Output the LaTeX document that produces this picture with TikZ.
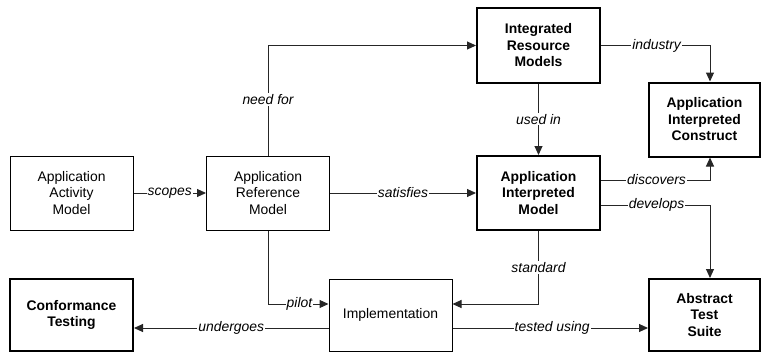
\documentclass[tikz,border=0pt]{standalone}
\usepackage{fontspec}
\setmainfont{Liberation Sans}
\usetikzlibrary{arrows.meta}
\begin{document}
\begin{tikzpicture}[x=1pt,y=-1pt,
  font=\fontsize{13.9}{16.5}\selectfont,
  box/.style={draw=black, line width=1pt, inner sep=0pt, align=center,
              minimum width=123pt, minimum height=74pt},
  keybox/.style={box, line width=2pt, font=\fontsize{13.9}{16.5}\selectfont\bfseries},
  conn/.style={draw=black!85, line width=1pt,
               -{Triangle[length=9pt,width=8pt]}},
  lbl/.style={fill=white, inner sep=1pt, font=\fontsize{13.9}{16.5}\selectfont\itshape}]
\useasboundingbox (0,0) rectangle (762,353);

% boxes
\node[box]    (aam)  at (71.5,193)  {Application\\Activity\\Model};
\node[box]    (arm)  at (268,193)   {Application\\Reference\\Model};
\node[keybox] (irm)  at (538.5,45.5) {Integrated\\Resource\\Models};
\node[keybox, minimum width=111pt] (aic) at (704.5,119.5) {Application\\Interpreted\\Construct};
\node[keybox] (aim)  at (538.5,193) {Application\\Interpreted\\Model};
\node[box, minimum height=72pt] (impl) at (390.5,315) {Implementation};
\node[keybox, minimum height=72pt] (ct) at (71.5,315) {Conformance\\Testing};
\node[keybox, minimum width=111pt, minimum height=72pt] (ats) at (704.5,315) {Abstract\\Test\\Suite};

% connectors
\draw[conn] (aam) -- node[lbl, pos=0.5] {scopes} (arm);
\draw[conn] (arm) -- node[lbl, pos=0.5] {satisfies} (aim);
\draw[conn] (arm.north) |- node[lbl, pos=0.255] {need for} (irm.west);
\draw[conn] (irm.south) -- node[lbl, pos=0.5] {used in} (aim.north);
\draw[conn] (irm.east) -| node[lbl, pos=0.255] {industry} ([xshift=5.5pt]aic.north);
\draw[conn] ([yshift=13pt]aim.east) -| node[lbl, pos=0.255] {discovers} ([xshift=5.5pt]aic.south);
\draw[conn] ([yshift=-12pt]aim.east) -| node[lbl, pos=0.255] {develops} ([xshift=5.5pt]ats.north);
\draw[conn] (aim.south) |- node[lbl, pos=0.25] {standard} ([yshift=11pt]impl.east);
\draw[conn] (arm.south) |- node[lbl, pos=0.76] {pilot} ([yshift=11pt]impl.west);
\draw[conn] ([yshift=-13pt]impl.west) -- node[lbl, pos=0.5] {undergoes} ([yshift=-13pt]ct.east);
\draw[conn] ([yshift=-13pt]impl.east) -- node[lbl, pos=0.51] {tested using} ([yshift=-13pt]ats.west);
\end{tikzpicture}
\end{document}
